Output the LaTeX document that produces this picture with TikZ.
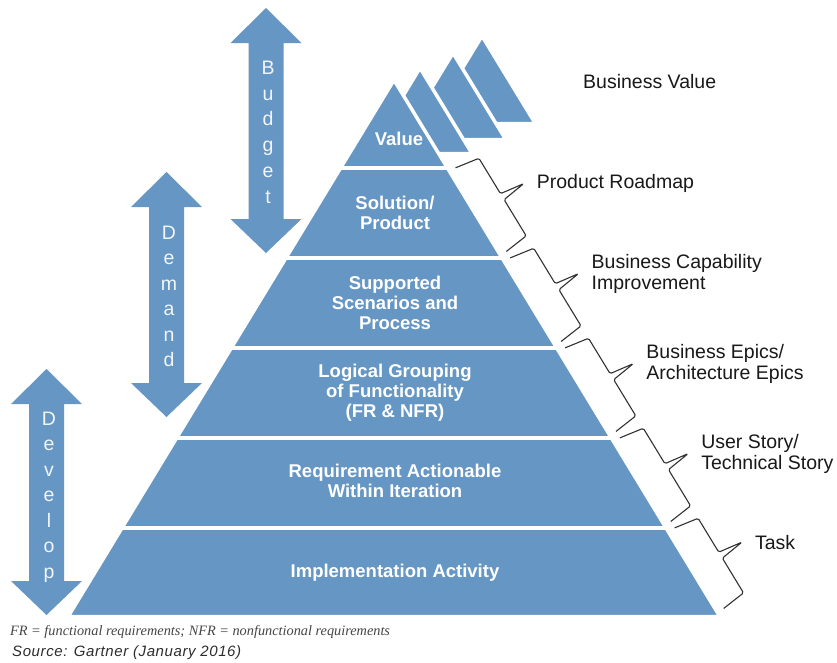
\documentclass[tikz,border=0pt]{standalone}
\usepackage{fontspec}
\setmainfont{Liberation Sans}
\newfontfamily\notefont{Liberation Serif}
\usetikzlibrary{calc}
\definecolor{pblue}{RGB}{101,150,196}
\definecolor{bracegray}{RGB}{50,50,50}
\definecolor{lblcol}{RGB}{25,25,25}
\definecolor{lettercol}{RGB}{242,246,250}
\definecolor{notegray}{RGB}{70,70,70}
\definecolor{srcgray}{RGB}{45,45,45}
\newcommand\vdarrow[3]{%
  \fill[pblue] (#1,#2) -- ({#1+35.5},{#2+35}) -- ({#1+17.5},{#2+35}) -- ({#1+17.5},{#3-34}) -- ({#1+35.5},{#3-34}) -- (#1,#3) -- ({#1-35.5},{#3-34}) -- ({#1-17.5},{#3-34}) -- ({#1-17.5},{#2+35}) -- ({#1-35.5},{#2+35}) -- cycle;}
\newcommand\lyrbrace[4]{%
  \coordinate (#3a) at ($(#1)+8.5*(nv)+5*(uv)$);
  \coordinate (#3b) at ($(#2)+8.5*(nv)-2.5*(uv)$);
  \coordinate (#3m) at ($(#3a)!0.5!(#3b)$);
  \coordinate (#3t) at ($(#3m)+50*(nv)$);
  \draw[bracestyle] (#3a) -- ($(#3a)+25*(nv)+4*(uv)$) -- ($(#3m)+25*(nv)-3.5*(uv)$) -- (#3t) -- ($(#3m)+25*(nv)+3.5*(uv)$) -- ($(#3b)+25*(nv)-3*(uv)$) -- (#3b);
  \node[sidelbl] (#3l) at ($(#3t)+(13,0)$) {#4};}
\begin{document}
\begin{tikzpicture}[x=1pt,y=-1pt,
  topshape/.style={fill=pblue, draw=white, line width=3.5pt, line join=round},
  gapline/.style={draw=white, line width=3.5pt},
  ptext/.style={text=white, align=center, inner sep=0pt, font=\bfseries\fontsize{18.5}{20}\selectfont},
  sidelbl/.style={anchor=west, align=left, inner sep=0pt, text=lblcol, font=\fontsize{19.5}{21}\selectfont},
  bracestyle/.style={draw=bracegray, line width=1.1pt, rounded corners=1.5pt},
  vletter/.style={anchor=base, inner sep=0pt, text=lettercol, font=\fontsize{19.5}{19.5}\selectfont}]
\useasboundingbox (0,0) rectangle (837,662);
\fill[white] (0,0) rectangle (837,662);
\coordinate (nv) at (0.855,-0.52);
\coordinate (uv) at (0.52,0.855);
% top-right value shapes (back to front)
\filldraw[topshape] (482,36) -- (535.3,123.5) -- (428.7,123.5) -- cycle;
\filldraw[topshape] (453,53) -- (505.7,139.5) -- (400.3,139.5) -- cycle;
\filldraw[topshape] (420,68) -- (472,153.5) -- (368,153.5) -- cycle;
% pyramid
\coordinate (ap) at (394,80);
\coordinate (bl) at (68.2,616.5);
\coordinate (br) at (719.8,616.5);
\filldraw[topshape] (ap) -- (br) -- (bl) -- cycle;
\foreach \y/\xl/\xr in {168/340.4/447.6, 258/285.6/502.4, 348/230.8/557.2, 438/176.0/612.0, 528/121.2/666.8}
  \draw[gapline] ({\xl-4},\y) -- ({\xr+4},\y);
% layer texts
\node[ptext] (tval) at (399,139) {Value};
\node[ptext] (tsol) at (395,212.5) {Solution/\\Product};
\node[ptext] (tsup) at (395,303) {Supported\\Scenarios and\\Process};
\node[ptext] (tlog) at (395,393) {Logical Grouping\\of Functionality\\(FR \& NFR)};
\node[ptext] (treq) at (395,481) {Requirement Actionable\\Within Iteration};
\node[ptext] (timp) at (395,573) {Implementation Activity};
% edge points for braces
\coordinate (r0) at (445.6,168);
\coordinate (r1) at (500.4,258);
\coordinate (r2) at (555.2,348);
\coordinate (r3) at (610.0,438);
\coordinate (r4) at (664.8,528);
\coordinate (r5) at (717.7,615);
\lyrbrace{r0}{r1}{ba}{Product Roadmap}
\lyrbrace{r1}{r2}{bb}{Business Capability\\Improvement}
\lyrbrace{r2}{r3}{bc}{Business Epics/\\Architecture Epics}
\lyrbrace{r3}{r4}{bd}{User Story/\\Technical Story}
\lyrbrace{r4}{r5}{be}{Task}
\node[sidelbl] (bval) at (583,82) {Business Value};
% double arrows
\vdarrow{266}{8}{253}
\vdarrow{166.5}{172}{417}
\vdarrow{46.5}{369}{615}
\foreach \l [count=\i from 0] in {B,u,d,g,e,t}
  \node[vletter] (bud\i) at (268,{74.3+25.8*\i}) {\l};
\foreach \l [count=\i from 0] in {D,e,m,a,n,d}
  \node[vletter] (dem\i) at (169,{239.3+25.5*\i}) {\l};
\foreach \l [count=\i from 0] in {D,e,v,e,l,o,p}
  \node[vletter] (dev\i) at (49,{425+25.5*\i}) {\l};
% notes
\node[anchor=west, inner sep=0pt, text=notegray, font=\notefont\itshape\fontsize{14.3}{16}\selectfont] (fnote) at (10,632) {FR = functional requirements; NFR = nonfunctional requirements};
\node[anchor=west, inner sep=0pt, text=srcgray, font=\itshape\fontsize{15}{17}\selectfont\addfontfeature{LetterSpace=4}] (src) at (12,653) {Source: Gartner (January 2016)};
\end{tikzpicture}
\end{document}
